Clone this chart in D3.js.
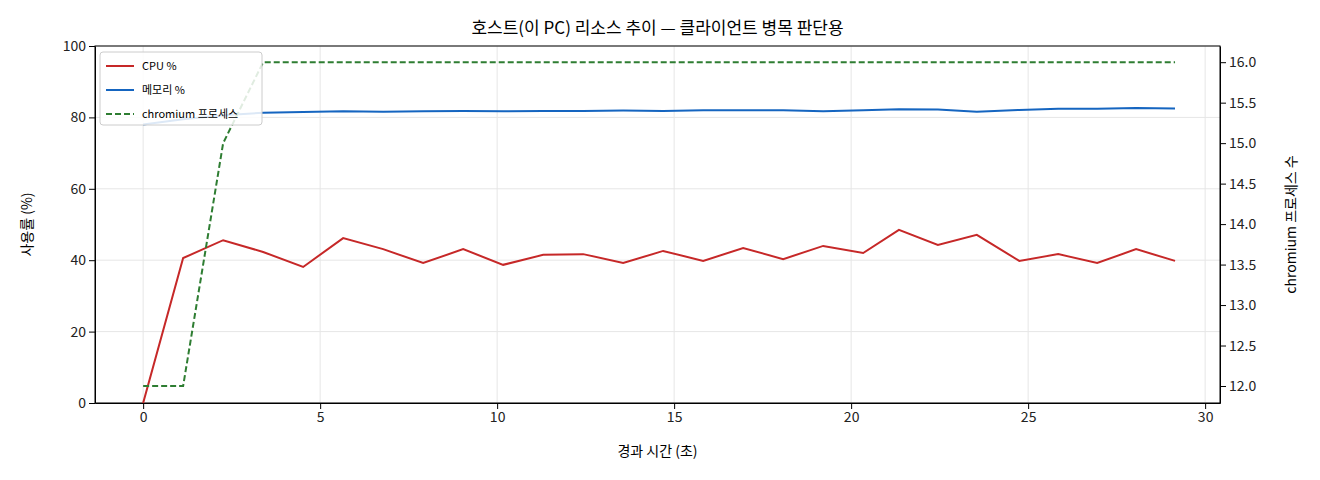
<!DOCTYPE html>
<html><head><meta charset="utf-8">
<script src="https://cdn.jsdelivr.net/npm/d3@7"></script>
<style>body{margin:0;background:#fff}text{font-family:"Noto Sans CJK KR","DejaVu Sans",sans-serif}</style>
</head><body>
<svg id="c" width="1320" height="480"></svg>
<script>
const times = [0,1.13,2.26,3.39,4.52,5.65,6.78,7.91,9.04,10.17,11.3,12.43,13.56,14.69,15.82,16.95,18.08,19.21,20.34,21.35,22.45,23.55,24.75,25.85,26.95,28.05,29.15];
const cpu = [0,40.6,45.6,42.3,38.1,46.2,43.1,39.2,43.1,38.7,41.5,41.7,39.2,42.6,39.8,43.4,40.3,44,42,48.5,44.3,47.1,39.8,41.7,39.2,43.1,39.8];
const mem = [78,79.5,80.6,81.3,81.5,81.7,81.6,81.7,81.8,81.7,81.8,81.8,81.9,81.8,82,82,82,81.7,82,82.3,82.2,81.6,82.1,82.4,82.4,82.6,82.5];
const procs = [12,12,15,16,16,16,16,16,16,16,16,16,16,16,16,16,16,16,16,16,16,16,16,16,16,16,16];
const leftTicks = [0,20,40,60,80,100];
const rightTicks = [12,12.5,13,13.5,14,14.5,15,15.5,16];
const xTicks = [0,5,10,15,20,25,30];

const svg = d3.select('#c');
const L=95,R=1220,T=46,B=403;
const x = d3.scaleLinear().domain([-1.36,30.42]).range([L,R]);
const y = d3.scaleLinear().domain([0,100]).range([B,T]);
const y2 = d3.scaleLinear().domain([11.79,16.2]).range([B,T]);

const g = svg.append('g');
g.selectAll('.gx').data(xTicks).join('line').attr('x1',d=>x(d)).attr('x2',d=>x(d)).attr('y1',T).attr('y2',B).attr('stroke','#e6e6e6');
g.selectAll('.gy').data(leftTicks).join('line').attr('y1',d=>y(d)).attr('y2',d=>y(d)).attr('x1',L).attr('x2',R).attr('stroke','#e6e6e6');

const ax = (sel)=>sel.selectAll('text').attr('font-size',14).attr('fill','#222');
svg.append('g').attr('transform',`translate(0,${B})`).call(d3.axisBottom(x).tickValues(xTicks).tickSizeOuter(0)).call(ax);
svg.append('g').attr('transform',`translate(${L},0)`).call(d3.axisLeft(y).tickValues(leftTicks).tickSizeOuter(0)).call(ax);
svg.append('g').attr('transform',`translate(${R},0)`).call(d3.axisRight(y2).tickValues(rightTicks).tickFormat(d3.format('.1f')).tickSizeOuter(0)).call(ax);
svg.append('rect').attr('x',L).attr('y',T).attr('width',R-L).attr('height',B-T).attr('fill','none').attr('stroke','#000');

const line = (ys,sc)=>d3.line().x((d,i)=>x(times[i])).y(d=>sc(d))(ys);
svg.append('path').attr('d',line(cpu,y)).attr('fill','none').attr('stroke','#c62828').attr('stroke-width',2);
svg.append('path').attr('d',line(mem,y)).attr('fill','none').attr('stroke','#1565c0').attr('stroke-width',2);
svg.append('path').attr('d',line(procs,y2)).attr('fill','none').attr('stroke','#2e7d32').attr('stroke-width',2).attr('stroke-dasharray','6,3');

svg.append('text').attr('x',(L+R)/2).attr('y',34).attr('text-anchor','middle').attr('font-size',17).text('호스트(이 PC) 리소스 추이 — 클라이언트 병목 판단용');
svg.append('text').attr('x',(L+R)/2).attr('y',456).attr('text-anchor','middle').attr('font-size',14).text('경과 시간 (초)');
svg.append('text').attr('transform',`translate(32,${(T+B)/2}) rotate(-90)`).attr('text-anchor','middle').attr('font-size',14).text('사용률 (%)');
svg.append('text').attr('transform',`translate(1296,${(T+B)/2}) rotate(-90)`).attr('text-anchor','middle').attr('font-size',14).text('chromium 프로세스 수');

const leg = svg.append('g').attr('transform','translate(100,52)');
leg.append('rect').attr('width',162).attr('height',73).attr('rx',3).attr('fill','#fff').attr('fill-opacity',0.85).attr('stroke','#ccc');
[['CPU %','#c62828',null],['메모리 %','#1565c0',null],['chromium 프로세스','#2e7d32','6,3']].forEach((d,i)=>{
  const yy=14+i*24;
  leg.append('line').attr('x1',6).attr('x2',34).attr('y1',yy).attr('y2',yy).attr('stroke',d[1]).attr('stroke-width',2).attr('stroke-dasharray',d[2]);
  leg.append('text').attr('x',42).attr('y',yy+4).attr('font-size',11).text(d[0]);
});
</script>
</body></html>
